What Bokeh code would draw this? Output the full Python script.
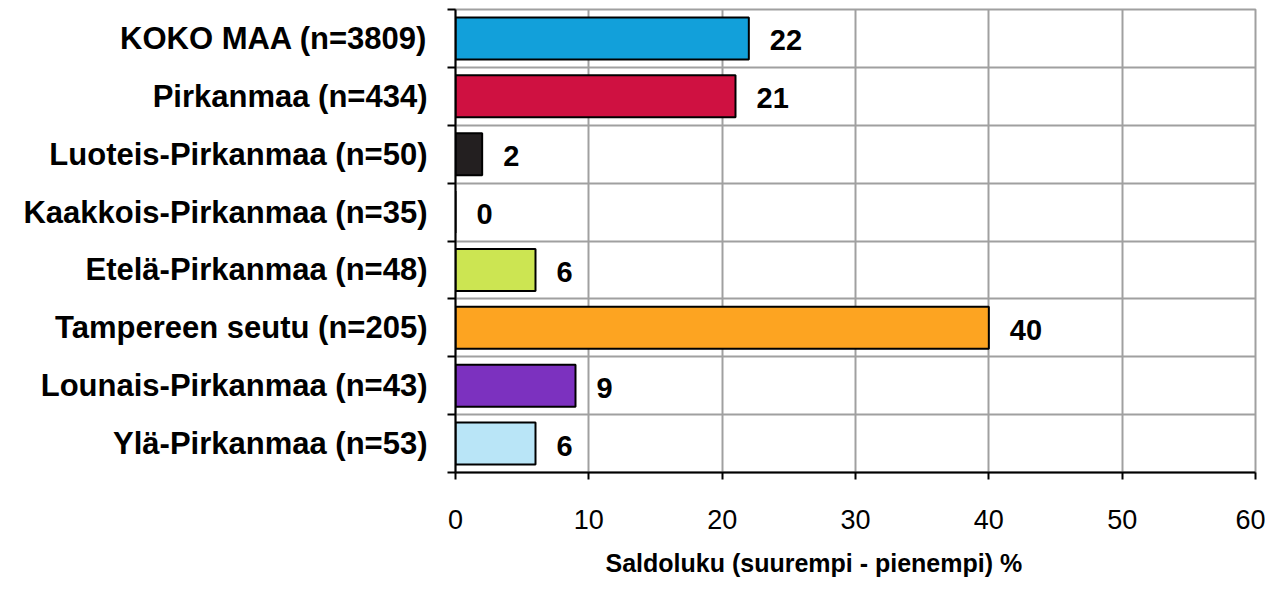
from bokeh.plotting import figure
from bokeh.models import FixedTicker, Title, ColumnDataSource, Range1d
from bokeh.core.properties import value
from bokeh.embed import file_html
from bokeh.resources import INLINE

categories = ["KOKO MAA (n=3809)", "Pirkanmaa (n=434)", "Luoteis-Pirkanmaa (n=50)",
              "Kaakkois-Pirkanmaa (n=35)", "Etelä-Pirkanmaa (n=48)", "Tampereen seutu (n=205)",
              "Lounais-Pirkanmaa (n=43)", "Ylä-Pirkanmaa (n=53)"]
values = [22, 21, 2, 0, 6, 40, 9, 6]
colors = ["#12A0DA", "#CF1141", "#231F20", "#FFFFFF", "#CCE552", "#FDA421", "#7C31BF", "#B9E5F7"]
x_ticks = [0, 10, 20, 30, 40, 50, 60]
x_label = "Saldoluku (suurempi - pienempi) %"

FONT = "Liberation Sans"
n = len(categories)
ys = [n - 1 - i for i in range(n)]
src = ColumnDataSource(dict(y=ys, v=values, c=colors, lbl=[str(v) for v in values]))

p = figure(width=1265, height=606, output_backend="svg", toolbar_location=None, title=None,
           x_range=Range1d(0, 60), y_range=Range1d(-0.5, n - 0.5),
           min_border_left=455, min_border_top=9, min_border_right=10, min_border_bottom=134)
p.background_fill_color = "white"
p.border_fill_color = "white"
p.outline_line_color = "#A0A0A0"
p.outline_line_width = 2

p.hbar(y="y", right="v", left=0, height=0.725, fill_color="c", line_color="black",
       line_width=2, source=src)
p.text(x="v", y="y", text="lbl", source=src, x_offset=21, y_offset=2,
       text_baseline="middle", text_align="left",
       text_font=value(FONT), text_font_style="bold", text_font_size="29px", text_color="black")

# x axis
p.xaxis.ticker = FixedTicker(ticks=x_ticks)
p.xaxis.axis_line_color = "black"
p.xaxis.axis_line_width = 2
p.xaxis.major_tick_out = 7
p.xaxis.major_tick_in = 0
p.xaxis.major_tick_line_width = 2
p.xaxis.major_tick_line_color = "black"
p.xaxis.minor_tick_line_color = None
p.xaxis.major_label_text_font = FONT
p.xaxis.major_label_text_font_size = "27px"
p.xaxis.major_label_text_color = "black"
p.xaxis.major_label_standoff = 30

# y axis
bounds = [i - 0.5 for i in range(n + 1)]
p.yaxis.ticker = FixedTicker(ticks=ys, minor_ticks=bounds)
p.yaxis.major_label_overrides = {y: c for y, c in zip(ys, categories)}
p.yaxis.axis_line_color = "black"
p.yaxis.axis_line_width = 2
p.yaxis.major_tick_line_color = None
p.yaxis.major_tick_out = 8
p.yaxis.minor_tick_out = 8
p.yaxis.minor_tick_in = 0
p.yaxis.minor_tick_line_color = "black"
p.yaxis.minor_tick_line_width = 2
p.yaxis.major_label_text_font = FONT
p.yaxis.major_label_text_font_style = "bold"
p.yaxis.major_label_text_font_size = "31px"
p.yaxis.major_label_text_color = "black"
p.yaxis.major_label_standoff = 20

# grids
p.xgrid.ticker = FixedTicker(ticks=x_ticks)
p.ygrid.ticker = FixedTicker(ticks=bounds)
for g in (p.xgrid, p.ygrid):
    g.grid_line_color = "#A0A0A0"
    g.grid_line_width = 2

t = Title(text=x_label, align="left", offset=150, vertical_align="top", text_font=FONT,
          text_font_style="bold", text_font_size="25px", text_color="black", standoff=34)
p.add_layout(t, "below")

open("out.html", "w").write(file_html(p, INLINE))
